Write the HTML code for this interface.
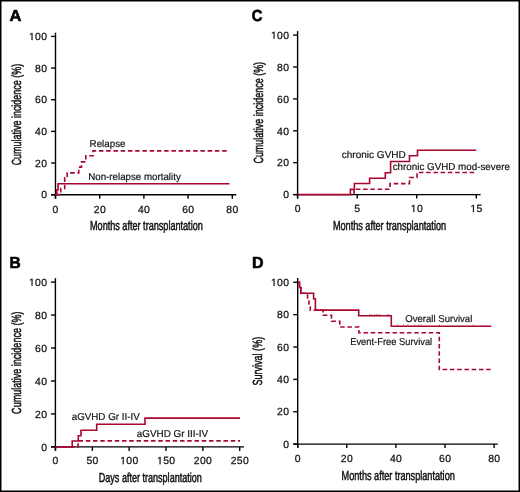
<!DOCTYPE html>
<html><head><meta charset="utf-8"><style>
html,body{margin:0;padding:0;background:#fff;}
body{width:520px;height:492px;overflow:hidden;}
svg{display:block;will-change:transform;}
text{font-family:"Liberation Sans",sans-serif;fill:#111;text-rendering:geometricPrecision;}
.L{text-rendering:geometricPrecision;font-weight:bold;font-size:16.0px;fill:#000;stroke:#000;stroke-width:0.6;}
.t{font-size:10.4px;letter-spacing:0.35px;stroke:#111;stroke-width:0.25;}
.c{font-size:13.2px;stroke:#111;stroke-width:0.5;}
.s{font-size:10px;stroke:#111;stroke-width:0.18;}
.one{fill:#111;stroke:#111;}
.ax{stroke:#000;stroke-width:1.4;fill:none;}
.cv{stroke:#a8072f;stroke-width:1.6;fill:none;}
.dv{stroke:#a8072f;stroke-width:1.6;fill:none;stroke-dasharray:4.5 2.75;}
</style></head><body>
<svg width="520" height="492" viewBox="0 0 520 492">
<rect x="0" y="0" width="520" height="492" fill="#fff"/>

<text transform="translate(9.4,20.6) scale(1.03,1)" class="L">A</text>
<line x1="55.5" y1="32.7" x2="55.5" y2="198.7" class="ax"/>
<line x1="51.1" y1="194.7" x2="236.3" y2="194.7" class="ax"/>
<line x1="51.1" y1="194.7" x2="55.5" y2="194.7" class="ax"/>
<text x="41.22" y="198.4" class="t">0</text>
<line x1="51.1" y1="163.04" x2="55.5" y2="163.04" class="ax"/>
<text x="35.08" y="166.74" class="t">2</text>
<text x="41.22" y="166.74" class="t">0</text>
<line x1="51.1" y1="131.38" x2="55.5" y2="131.38" class="ax"/>
<text x="35.08" y="135.08" class="t">4</text>
<text x="41.22" y="135.08" class="t">0</text>
<line x1="51.1" y1="99.72" x2="55.5" y2="99.72" class="ax"/>
<text x="35.08" y="103.42" class="t">6</text>
<text x="41.22" y="103.42" class="t">0</text>
<line x1="51.1" y1="68.06" x2="55.5" y2="68.06" class="ax"/>
<text x="35.08" y="71.76" class="t">8</text>
<text x="41.22" y="71.76" class="t">0</text>
<line x1="51.1" y1="36.4" x2="55.5" y2="36.4" class="ax"/>
<path class="one" transform="translate(28.95,40.1) scale(0.005078,-0.005078)" stroke-width="49.2" d="M515 0V1237L197 1010V1180L530 1409H696V0Z"/>
<text x="35.08" y="40.1" class="t">0</text>
<text x="41.22" y="40.1" class="t">0</text>
<line x1="55.5" y1="194.7" x2="55.5" y2="198.7" class="ax"/>
<text x="52.61" y="212.5" class="t">0</text>
<line x1="99.7" y1="194.7" x2="99.7" y2="198.7" class="ax"/>
<text x="93.74" y="212.5" class="t">2</text>
<text x="99.88" y="212.5" class="t">0</text>
<line x1="143.9" y1="194.7" x2="143.9" y2="198.7" class="ax"/>
<text x="137.94" y="212.5" class="t">4</text>
<text x="144.08" y="212.5" class="t">0</text>
<line x1="188.1" y1="194.7" x2="188.1" y2="198.7" class="ax"/>
<text x="182.14" y="212.5" class="t">6</text>
<text x="188.28" y="212.5" class="t">0</text>
<line x1="232.3" y1="194.7" x2="232.3" y2="198.7" class="ax"/>
<text x="226.34" y="212.5" class="t">8</text>
<text x="232.48" y="212.5" class="t">0</text>
<text transform="translate(20.6,114.6) rotate(-90)" class="c" text-anchor="middle" textLength="101.5" lengthAdjust="spacingAndGlyphs">Cumulative incidence (%)</text>
<text x="90" y="230.3" class="c" textLength="112.8" lengthAdjust="spacingAndGlyphs">Months after transplantation</text>
<path class="cv" d="M55.6,194.6 H56.8 V190 H58.1 V183.7 H229.5"/>
<path class="dv" d="M55.6,194.6 H60.8 V188.5 H64.7 V177.5 H67.2 V172.9 H78.8 V167.1 H81.5 V161.9 H85.8 V155.8 H93 V150.9 H227.6"/>
<text x="89.6" y="147" class="s" textLength="35.9" lengthAdjust="spacingAndGlyphs">Relapse</text>
<text x="88.2" y="179.8" class="s" textLength="92.6" lengthAdjust="spacingAndGlyphs">Non-relapse mortality</text>
<text transform="translate(251.8,21.2) scale(0.92,1)" class="L">C</text>
<line x1="297.6" y1="31.05" x2="297.6" y2="198.6" class="ax"/>
<line x1="293.2" y1="194.6" x2="480.6" y2="194.6" class="ax"/>
<line x1="293.2" y1="194.6" x2="297.6" y2="194.6" class="ax"/>
<text x="283.22" y="198.3" class="t">0</text>
<line x1="293.2" y1="162.7" x2="297.6" y2="162.7" class="ax"/>
<text x="277.08" y="166.4" class="t">2</text>
<text x="283.22" y="166.4" class="t">0</text>
<line x1="293.2" y1="130.8" x2="297.6" y2="130.8" class="ax"/>
<text x="277.08" y="134.5" class="t">4</text>
<text x="283.22" y="134.5" class="t">0</text>
<line x1="293.2" y1="98.9" x2="297.6" y2="98.9" class="ax"/>
<text x="277.08" y="102.6" class="t">6</text>
<text x="283.22" y="102.6" class="t">0</text>
<line x1="293.2" y1="67" x2="297.6" y2="67" class="ax"/>
<text x="277.08" y="70.7" class="t">8</text>
<text x="283.22" y="70.7" class="t">0</text>
<line x1="293.2" y1="35.1" x2="297.6" y2="35.1" class="ax"/>
<path class="one" transform="translate(270.95,38.8) scale(0.005078,-0.005078)" stroke-width="49.2" d="M515 0V1237L197 1010V1180L530 1409H696V0Z"/>
<text x="277.08" y="38.8" class="t">0</text>
<text x="283.22" y="38.8" class="t">0</text>
<line x1="297.6" y1="194.6" x2="297.6" y2="198.6" class="ax"/>
<text x="294.71" y="212.1" class="t">0</text>
<line x1="357.2" y1="194.6" x2="357.2" y2="198.6" class="ax"/>
<text x="354.31" y="212.1" class="t">5</text>
<line x1="416.7" y1="194.6" x2="416.7" y2="198.6" class="ax"/>
<path class="one" transform="translate(410.74,212.1) scale(0.005078,-0.005078)" stroke-width="49.2" d="M515 0V1237L197 1010V1180L530 1409H696V0Z"/>
<text x="416.88" y="212.1" class="t">0</text>
<line x1="476.3" y1="194.6" x2="476.3" y2="198.6" class="ax"/>
<path class="one" transform="translate(470.34,212.1) scale(0.005078,-0.005078)" stroke-width="49.2" d="M515 0V1237L197 1010V1180L530 1409H696V0Z"/>
<text x="476.48" y="212.1" class="t">5</text>
<text transform="translate(263.1,112.75) rotate(-90)" class="c" text-anchor="middle" textLength="101.7" lengthAdjust="spacingAndGlyphs">Cumulative incidence (%)</text>
<text x="332.9" y="230.2" class="c" textLength="113.2" lengthAdjust="spacingAndGlyphs">Months after transplantation</text>
<path class="cv" d="M297.6,194.6 H350.4 V189.4 H354.4 V183.5 H369.6 V178.2 H385.3 V172.7 H390.6 V161.5 H409.5 V155.7 H417.5 V150.3 H476.3"/>
<path class="dv" d="M354,194.6 V189.2 H390 V183.6 H409.5 V177.5 H417 V172.5 H476.3"/>
<text x="341.8" y="157.8" class="s" textLength="64" lengthAdjust="spacingAndGlyphs">chronic GVHD</text>
<text x="392.7" y="170" class="s" textLength="117.2" lengthAdjust="spacingAndGlyphs">chronic GVHD mod-severe</text>
<text transform="translate(9.4,267.8) scale(0.97,1)" class="L">B</text>
<line x1="55.4" y1="278.2" x2="55.4" y2="450.9" class="ax"/>
<line x1="51" y1="446.9" x2="244" y2="446.9" class="ax"/>
<line x1="51" y1="446.9" x2="55.4" y2="446.9" class="ax"/>
<text x="41.22" y="450.6" class="t">0</text>
<line x1="51" y1="413.94" x2="55.4" y2="413.94" class="ax"/>
<text x="35.08" y="417.64" class="t">2</text>
<text x="41.22" y="417.64" class="t">0</text>
<line x1="51" y1="380.98" x2="55.4" y2="380.98" class="ax"/>
<text x="35.08" y="384.68" class="t">4</text>
<text x="41.22" y="384.68" class="t">0</text>
<line x1="51" y1="348.02" x2="55.4" y2="348.02" class="ax"/>
<text x="35.08" y="351.72" class="t">6</text>
<text x="41.22" y="351.72" class="t">0</text>
<line x1="51" y1="315.06" x2="55.4" y2="315.06" class="ax"/>
<text x="35.08" y="318.76" class="t">8</text>
<text x="41.22" y="318.76" class="t">0</text>
<line x1="51" y1="282.1" x2="55.4" y2="282.1" class="ax"/>
<path class="one" transform="translate(28.95,285.8) scale(0.005078,-0.005078)" stroke-width="49.2" d="M515 0V1237L197 1010V1180L530 1409H696V0Z"/>
<text x="35.08" y="285.8" class="t">0</text>
<text x="41.22" y="285.8" class="t">0</text>
<line x1="55.5" y1="446.9" x2="55.5" y2="450.9" class="ax"/>
<text x="52.61" y="464.2" class="t">0</text>
<line x1="92.34" y1="446.9" x2="92.34" y2="450.9" class="ax"/>
<text x="86.38" y="464.2" class="t">5</text>
<text x="92.52" y="464.2" class="t">0</text>
<line x1="129.18" y1="446.9" x2="129.18" y2="450.9" class="ax"/>
<path class="one" transform="translate(120.15,464.2) scale(0.005078,-0.005078)" stroke-width="49.2" d="M515 0V1237L197 1010V1180L530 1409H696V0Z"/>
<text x="126.29" y="464.2" class="t">0</text>
<text x="132.42" y="464.2" class="t">0</text>
<line x1="166.02" y1="446.9" x2="166.02" y2="450.9" class="ax"/>
<path class="one" transform="translate(156.99,464.2) scale(0.005078,-0.005078)" stroke-width="49.2" d="M515 0V1237L197 1010V1180L530 1409H696V0Z"/>
<text x="163.13" y="464.2" class="t">5</text>
<text x="169.26" y="464.2" class="t">0</text>
<line x1="202.86" y1="446.9" x2="202.86" y2="450.9" class="ax"/>
<text x="193.83" y="464.2" class="t">2</text>
<text x="199.97" y="464.2" class="t">0</text>
<text x="206.1" y="464.2" class="t">0</text>
<line x1="239.7" y1="446.9" x2="239.7" y2="450.9" class="ax"/>
<text x="230.67" y="464.2" class="t">2</text>
<text x="236.81" y="464.2" class="t">5</text>
<text x="242.94" y="464.2" class="t">0</text>
<text transform="translate(20.6,362.7) rotate(-90)" class="c" text-anchor="middle" textLength="102.4" lengthAdjust="spacingAndGlyphs">Cumulative incidence (%)</text>
<text x="98.8" y="482" class="c" textLength="103" lengthAdjust="spacingAndGlyphs">Days after transplantation</text>
<path class="cv" d="M55.5,446.9 H72.2 V441 H78.3 V435.8 H81 V430.2 H96.7 V424.2 H145 V418.1 H240"/>
<path class="dv" d="M55.5,446.9 H78.1 V440.9 H240"/>
<text x="71.7" y="420.4" class="s" textLength="68" lengthAdjust="spacingAndGlyphs">aGVHD Gr II-IV</text>
<text x="136.7" y="437" class="s" textLength="71.5" lengthAdjust="spacingAndGlyphs">aGVHD Gr III-IV</text>
<text transform="translate(251.9,267.8) scale(1.0,1)" class="L">D</text>
<line x1="297.7" y1="278.1" x2="297.7" y2="448.1" class="ax"/>
<line x1="293.3" y1="444.1" x2="497.8" y2="444.1" class="ax"/>
<line x1="293.3" y1="444.1" x2="297.7" y2="444.1" class="ax"/>
<text x="283.22" y="447.8" class="t">0</text>
<line x1="293.3" y1="411.74" x2="297.7" y2="411.74" class="ax"/>
<text x="277.08" y="415.44" class="t">2</text>
<text x="283.22" y="415.44" class="t">0</text>
<line x1="293.3" y1="379.38" x2="297.7" y2="379.38" class="ax"/>
<text x="277.08" y="383.08" class="t">4</text>
<text x="283.22" y="383.08" class="t">0</text>
<line x1="293.3" y1="347.02" x2="297.7" y2="347.02" class="ax"/>
<text x="277.08" y="350.72" class="t">6</text>
<text x="283.22" y="350.72" class="t">0</text>
<line x1="293.3" y1="314.66" x2="297.7" y2="314.66" class="ax"/>
<text x="277.08" y="318.36" class="t">8</text>
<text x="283.22" y="318.36" class="t">0</text>
<line x1="293.3" y1="282.3" x2="297.7" y2="282.3" class="ax"/>
<path class="one" transform="translate(270.95,286) scale(0.005078,-0.005078)" stroke-width="49.2" d="M515 0V1237L197 1010V1180L530 1409H696V0Z"/>
<text x="277.08" y="286" class="t">0</text>
<text x="283.22" y="286" class="t">0</text>
<line x1="297.7" y1="444.1" x2="297.7" y2="448.1" class="ax"/>
<text x="294.81" y="461.6" class="t">0</text>
<line x1="346.8" y1="444.1" x2="346.8" y2="448.1" class="ax"/>
<text x="340.84" y="461.6" class="t">2</text>
<text x="346.98" y="461.6" class="t">0</text>
<line x1="395.9" y1="444.1" x2="395.9" y2="448.1" class="ax"/>
<text x="389.94" y="461.6" class="t">4</text>
<text x="396.07" y="461.6" class="t">0</text>
<line x1="445" y1="444.1" x2="445" y2="448.1" class="ax"/>
<text x="439.04" y="461.6" class="t">6</text>
<text x="445.18" y="461.6" class="t">0</text>
<line x1="494.1" y1="444.1" x2="494.1" y2="448.1" class="ax"/>
<text x="488.14" y="461.6" class="t">8</text>
<text x="494.28" y="461.6" class="t">0</text>
<text transform="translate(262.2,361.2) rotate(-90)" class="c" text-anchor="middle" textLength="48.8" lengthAdjust="spacingAndGlyphs">Survival (%)</text>
<text x="341.6" y="479.6" class="c" textLength="113.2" lengthAdjust="spacingAndGlyphs">Months after transplantation</text>
<path class="cv" d="M297.9,282.3 H299.5 V287.5 H300.8 V293.2 H313.6 V298.8 H315.4 V310.1 H358.7 V315.8 H391.3 V326.3 H491.3"/>
<path class="dv" d="M297.9,282.3 H299.5 V287.5 H300.8 V293.2 H307.6 V299 H309 V304 H310.3 V310.1 H323 V315.3 H331.5 V321.3 H339.8 V327 H358.9 V332.7 H439.3 V369.5 H491.3"/>
<path stroke="#a8072f" stroke-width="0.9" stroke-opacity="0.55" fill="none" d="M369.8,313.90000000000003V316.40000000000003 M371.6,313.90000000000003V316.40000000000003 M374.5,313.90000000000003V316.40000000000003 M376.4,313.90000000000003V316.40000000000003 M378.3,313.90000000000003V316.40000000000003 M379.8,313.90000000000003V316.40000000000003 M387.5,313.90000000000003V316.40000000000003 M389,313.90000000000003V316.40000000000003 M397.8,324.40000000000003V326.90000000000003 M403.3,324.40000000000003V326.90000000000003 M407.9,324.40000000000003V326.90000000000003 M414.8,324.40000000000003V326.90000000000003 M418.8,324.40000000000003V326.90000000000003 M421.1,324.40000000000003V326.90000000000003 M439.5,324.40000000000003V326.90000000000003 M473.1,324.40000000000003V326.90000000000003"/>
<text x="405.3" y="322.2" class="s" textLength="67" lengthAdjust="spacingAndGlyphs">Overall Survival</text>
<text x="350.2" y="344.8" class="s" textLength="82" lengthAdjust="spacingAndGlyphs">Event-Free Survival</text>
<rect x="0.75" y="0.75" width="518.5" height="490.5" fill="none" stroke="#000" stroke-width="1.5"/>
</svg></body></html>
